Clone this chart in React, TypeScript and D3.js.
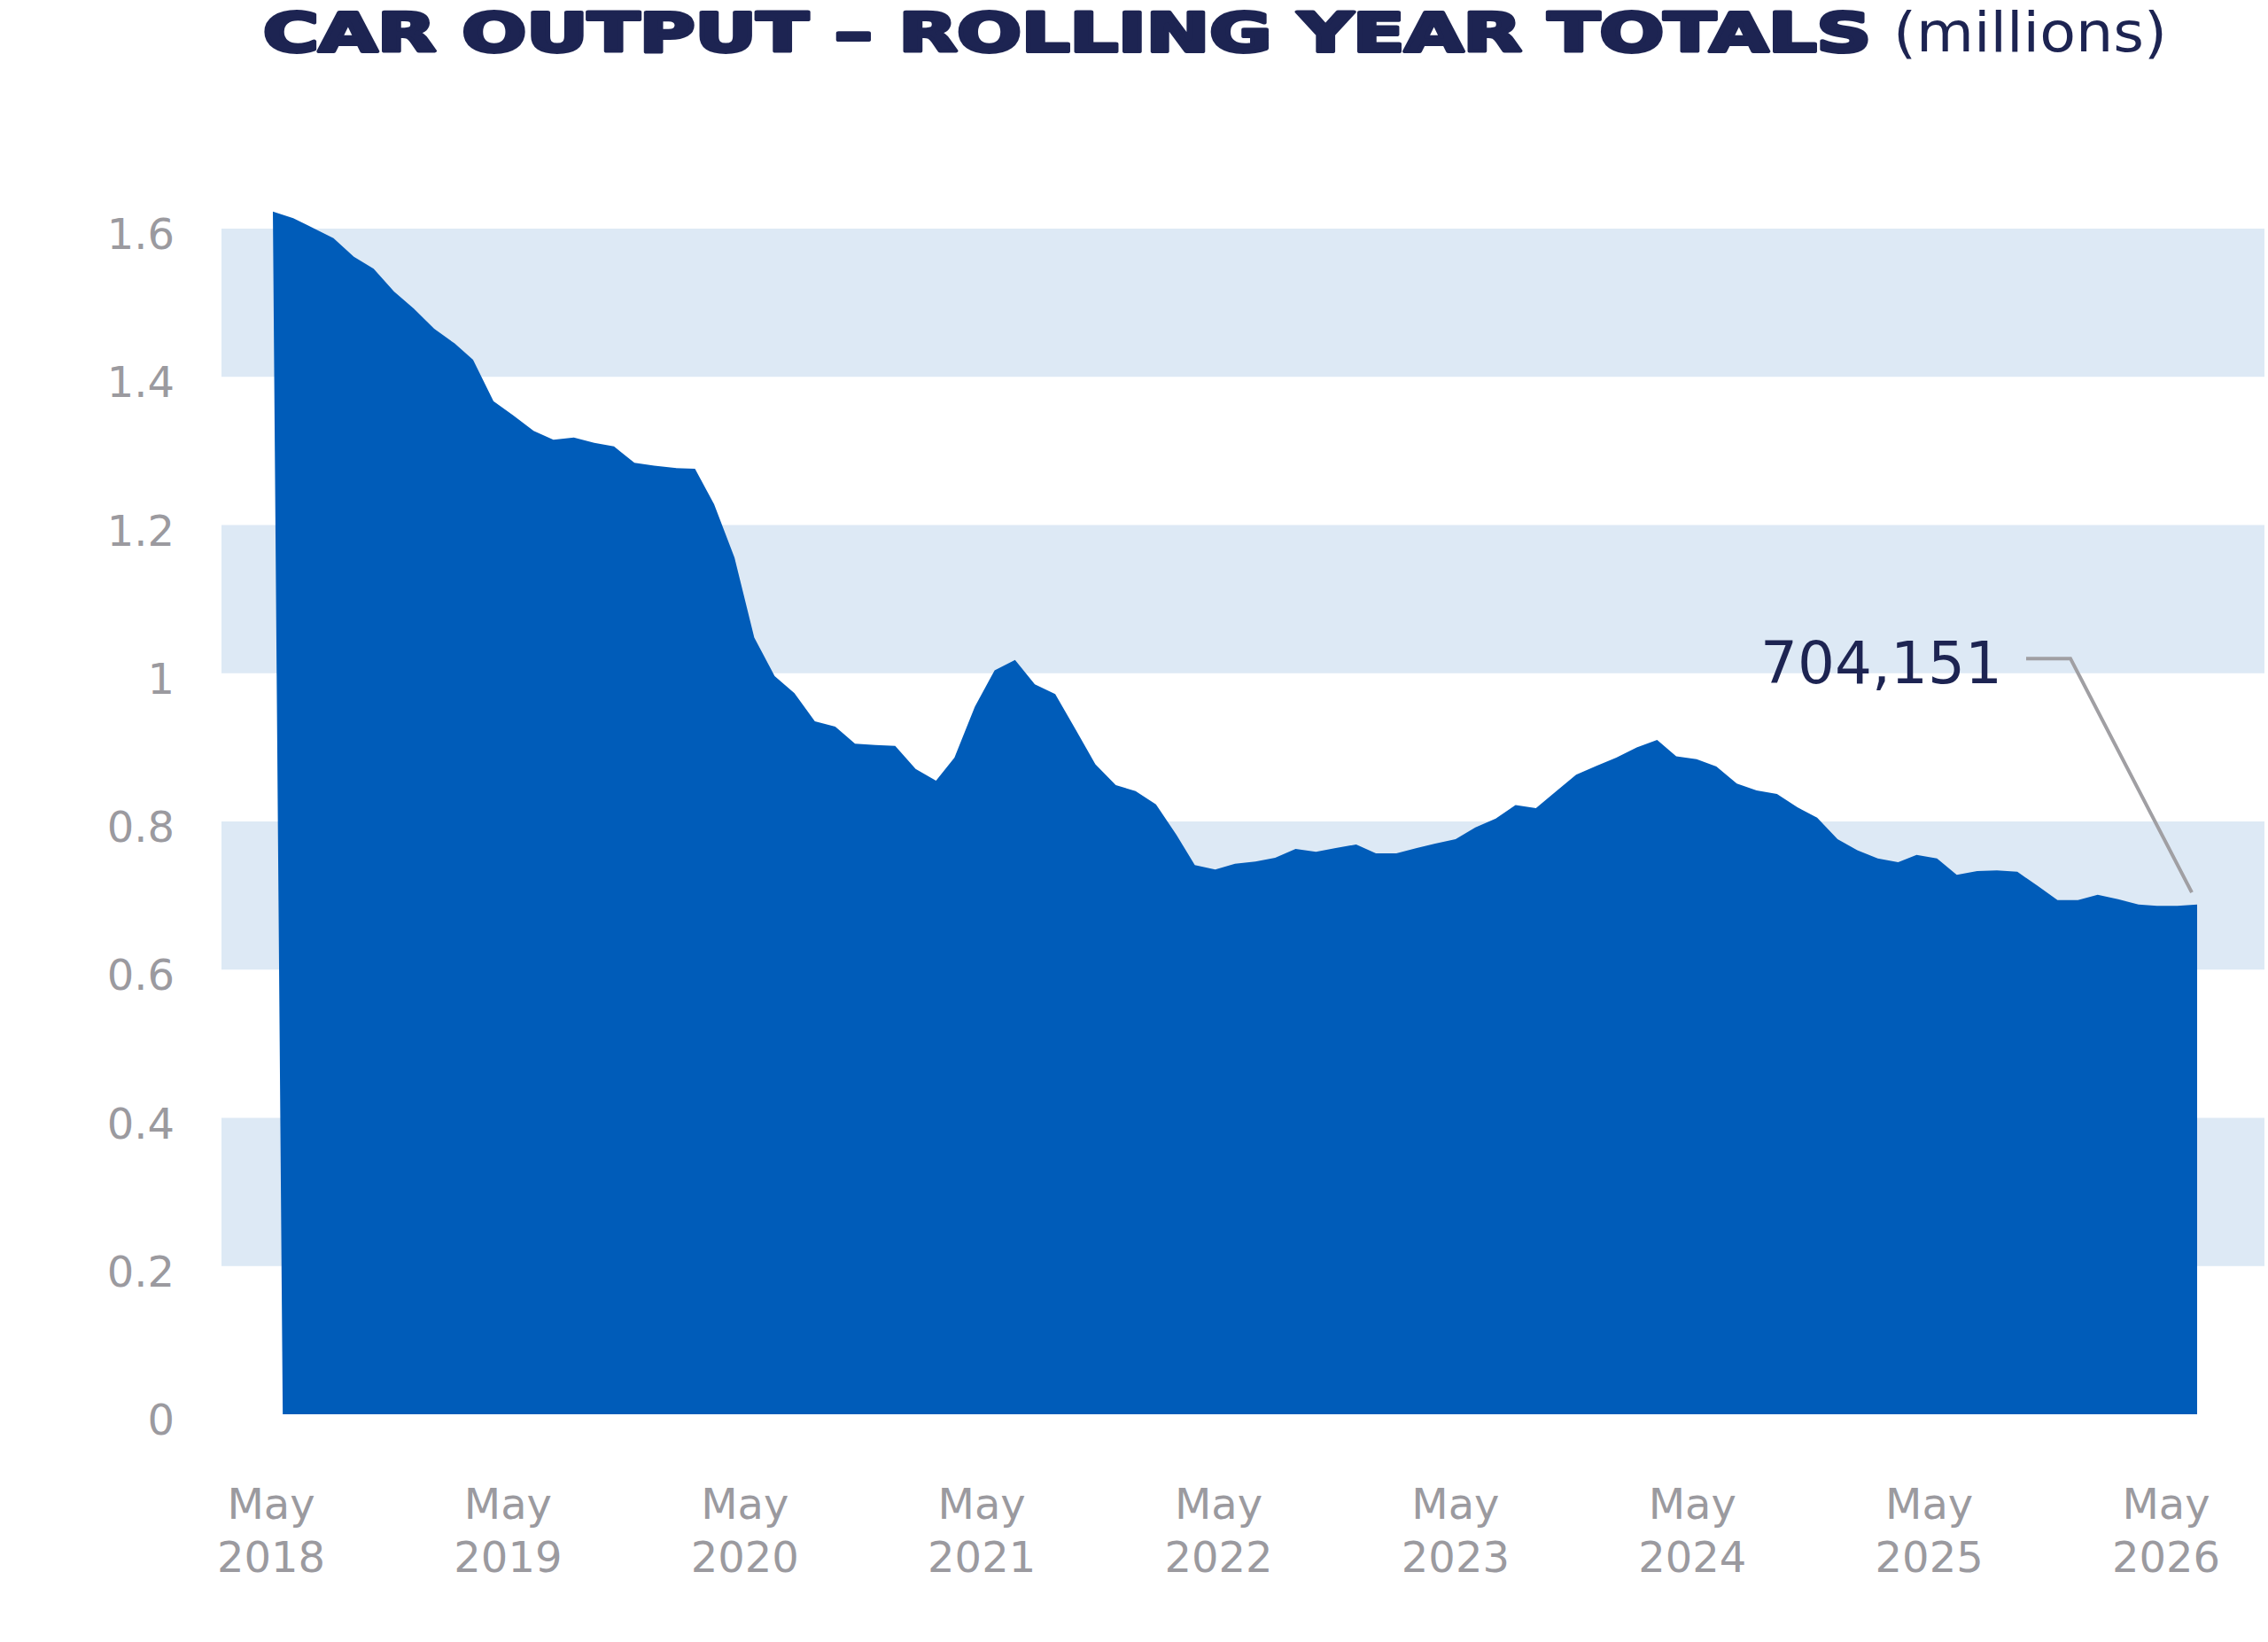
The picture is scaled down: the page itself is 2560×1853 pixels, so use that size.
import * as d3 from "d3";

// Rolling-year car output, monthly, in millions
const START_MONTH = new Date(2018, 4, 1); // May 2018
const OUTPUT = [
  1.623, 1.614, 1.601, 1.587, 1.562, 1.546, 1.515, 1.492, 1.465, 1.445,
  1.423, 1.367, 1.348, 1.327, 1.315, 1.318, 1.311, 1.306, 1.284, 1.28,
  1.277, 1.276, 1.228, 1.156, 1.048, 0.996, 0.973, 0.935, 0.928, 0.905,
  0.903, 0.902, 0.871, 0.855, 0.886, 0.955, 1.004, 1.018, 0.985, 0.972,
  0.924, 0.877, 0.849, 0.841, 0.823, 0.782, 0.741, 0.735, 0.743, 0.746,
  0.751, 0.763, 0.759, 0.764, 0.769, 0.757, 0.757, 0.764, 0.77, 0.776,
  0.792, 0.804, 0.822, 0.818, 0.841, 0.863, 0.875, 0.886, 0.9, 0.91,
  0.888, 0.884, 0.874, 0.851, 0.842, 0.837, 0.819, 0.805, 0.776, 0.761,
  0.75, 0.745, 0.755, 0.75, 0.728, 0.733, 0.734, 0.732, 0.713, 0.694,
  0.694, 0.701, 0.695, 0.688, 0.686, 0.686, 0.688,
];

const Y_TICKS = [0, 0.2, 0.4, 0.6, 0.8, 1, 1.2, 1.4, 1.6];
const BANDS: [number, number][] = [
  [0.2, 0.4],
  [0.6, 0.8],
  [1.0, 1.2],
  [1.4, 1.6],
];
const TICK_YEARS = [2018, 2019, 2020, 2021, 2022, 2023, 2024, 2025, 2026];
const TICK_MONTH = "May";

const ANNOT_VALUE = 704151;
const ANNOT_LABEL = d3.format(",")(ANNOT_VALUE);

const TITLE_BOLD = "CAR OUTPUT – ROLLING YEAR TOTALS";
const TITLE_UNIT = "(millions)";

// Colours
const NAVY = "#1d2452";
const AREA_BLUE = "#005cb9";
const BAND_BLUE = "#dde9f5";
const AXIS_GREY = "#9b9a9f";
const LEADER_GREY = "#a09fa3";

const W = 2560;
const H = 1853;
const FONT = "'DejaVu Sans', Verdana, sans-serif";

type Point = { date: Date; value: number };

const data: Point[] = OUTPUT.map((value, i) => ({
  date: d3.timeMonth.offset(START_MONTH, i),
  value,
}));

export default function App() {
  const x = d3
    .scaleTime()
    .domain(d3.extent(data, (d) => d.date) as [Date, Date])
    .range([308, 2480]);

  const y = d3.scaleLinear().domain([0, 1.6]).range([1596, 258]);

  // labels sit on their own evenly spaced grid, a bit narrower than the data
  const xLabel = d3
    .scalePoint<number>()
    .domain(TICK_YEARS)
    .range([306, 2445]);

  const bandLeft = 250;
  const bandRight = 2556;

  // the baseline of the first month starts half a month in (slanted left edge)
  const area = d3
    .area<Point>()
    .x0((d, i) => (i === 0 ? x(d3.timeDay.offset(d.date, 15)) : x(d.date)))
    .x1((d) => x(d.date))
    .y0(() => y(0))
    .y1((d) => y(d.value));

  const last = data[data.length - 1];
  const lastX = x(last.date);
  const targetY = y(ANNOT_VALUE / 1e6);
  const textBaseline = targetY - 236;
  const elbowY = textBaseline - 28;

  const leader = d3.line()([
    [lastX - 193, elbowY],
    [lastX - 143, elbowY],
    [lastX - 6, targetY],
  ]);

  const titleY = 58;

  return (
    <svg
      width={W}
      height={H}
      viewBox={`0 0 ${W} ${H}`}
      style={{ position: "absolute", left: 0, top: 0, display: "block", background: "#fff" }}
    >
      <rect width={W} height={H} fill="#fff" />

      {/* title: heavy extended face faked with stretch + stroke */}
      <text
        x={297}
        y={titleY}
        fontFamily={FONT}
        fontWeight={900}
        fontSize={60}
        fill={NAVY}
        stroke={NAVY}
        strokeWidth={4}
        strokeLinejoin="round"
        textLength={1815}
        lengthAdjust="spacingAndGlyphs"
      >
        {TITLE_BOLD}
      </text>
      <text
        x={2137}
        y={titleY}
        fontFamily={FONT}
        fontSize={62}
        fill={NAVY}
        textLength={309}
        lengthAdjust="spacingAndGlyphs"
      >
        {TITLE_UNIT}
      </text>

      {/* alternating bands */}
      {BANDS.map(([lo, hi]) => (
        <rect
          key={lo}
          x={bandLeft}
          y={y(hi)}
          width={bandRight - bandLeft}
          height={y(lo) - y(hi)}
          fill={BAND_BLUE}
        />
      ))}

      {/* y axis labels */}
      {Y_TICKS.map((t) => (
        <text
          key={t}
          x={197}
          y={y(t) + 23}
          textAnchor="end"
          fontFamily={FONT}
          fontSize={48}
          fill={AXIS_GREY}
        >
          {d3.format("~g")(t)}
        </text>
      ))}

      {/* area */}
      <path d={area(data) ?? ""} fill={AREA_BLUE} />

      {/* x axis labels */}
      {TICK_YEARS.map((yr) => (
        <text
          key={yr}
          x={xLabel(yr)}
          textAnchor="middle"
          fontFamily={FONT}
          fontSize={48}
          fill={AXIS_GREY}
        >
          <tspan x={xLabel(yr)} y={1714}>
            {TICK_MONTH}
          </tspan>
          <tspan x={xLabel(yr)} y={1774}>
            {yr}
          </tspan>
        </text>
      ))}

      {/* latest value annotation */}
      <path d={leader ?? ""} fill="none" stroke={LEADER_GREY} strokeWidth={4} />
      <text
        x={lastX - 220}
        y={textBaseline}
        textAnchor="end"
        fontFamily={FONT}
        fontSize={66}
        fill={NAVY}
      >
        {ANNOT_LABEL}
      </text>
    </svg>
  );
}
